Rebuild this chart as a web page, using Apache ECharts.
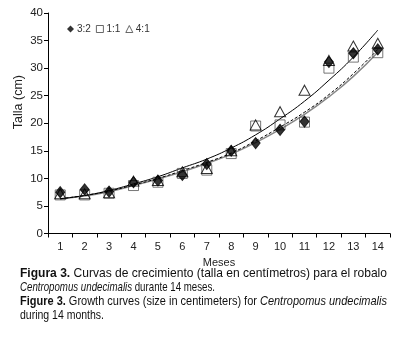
<!DOCTYPE html>
<html>
<head>
<meta charset="utf-8">
<script src="https://cdn.jsdelivr.net/npm/echarts@6/dist/echarts.min.js"></script>
<style>
html,body{margin:0;padding:0;background:#fff;}
#chart{width:395px;height:351px;}
</style>
</head>
<body>
<div id="chart"></div>
<script>
var months = ['1','2','3','4','5','6','7','8','9','10','11','12','13','14'];
var yTicks = [0,5,10,15,20,25,30,35,40];
// observed values
var s32 = [7.5, 8.0, 7.6, 9.3, 9.6, 10.6, 12.6, 15.0, 16.4, 18.8, 20.3, 31.1, 32.7, 33.4];
var s11 = [7.0, 7.0, 7.3, 8.7, 9.3, 10.9, 11.5, 14.5, 19.5, 19.7, 20.2, 30.0, 32.0, 32.8];
var s41 = [7.2, 7.2, 7.4, 9.5, 9.6, 11.2, 11.8, 15.0, 19.7, 22.1, 26.0, 31.4, 34.0, 34.5];
// fitted growth curves
var fitUpper = [6.3, 6.9, 7.8, 9.0, 10.3, 11.9, 13.5, 15.5, 17.9, 20.8, 24.0, 27.8, 32.0, 36.9];
var fitMidA  = [6.3, 6.9, 7.7, 8.8, 10.0, 11.4, 12.9, 14.6, 16.8, 19.3, 22.0, 25.2, 29.0, 33.4];
var fitMidB  = [6.3, 6.8, 7.6, 8.7, 9.9, 11.2, 12.7, 14.4, 16.5, 18.9, 21.6, 24.8, 28.5, 32.9];

var FONT = '"Liberation Sans",Arial,sans-serif';

// caption lines as [style, text] segments
var cap1 = [['b','Figura 3.'],['n',' Curvas de crecimiento (talla en centímetros) para el robalo']];
var cap2 = [['i','Centropomus undecimalis'],['n',' durante 14 meses.']];
var cap3 = [['b','Figure 3.'],['n',' Growth curves (size in centimeters) for '],['i','Centropomus undecimalis']];
var cap4 = [['n','during 14 months.']];

var fonts = {b:'bold 13px '+FONT, n:'13px '+FONT, i:'italic 13px '+FONT};
var mctx = document.createElement('canvas').getContext('2d');
function lineWidth(segs){
  var w=0; segs.forEach(function(s){mctx.font=fonts[s[0]]; w+=mctx.measureText(s[1]).width;}); return w;
}
function capEl(segs, y, targetW){
  var sc = targetW/lineWidth(segs);
  var rich = {};
  Object.keys(fonts).forEach(function(k){rich[k]={font:fonts[k],fill:'#111'};});
  var txt = segs.map(function(s){return '{'+s[0]+'|'+s[1]+'}';}).join('');
  return {type:'text',x:20,y:y,scaleX:sc,
    style:{text:txt,rich:rich,x:0,y:0,verticalAlign:'middle',align:'left'}};
}

var chart = echarts.init(document.getElementById('chart'), null, {renderer:'canvas'});
var option = {
  animation:false,
  backgroundColor:'#fff',
  grid:{left:48,right:5,top:13,bottom:117.5,containLabel:false},
  legend:{
    left:62, top:19, itemWidth:7, itemHeight:7, itemGap:5,
    textStyle:{fontFamily:FONT,fontSize:10,color:'#333',padding:[0,0,0,-2]},
    data:[
      {name:'3:2',icon:'diamond',itemStyle:{color:'#000',borderColor:'#000'}},
      {name:'1:1',icon:'rect',itemStyle:{color:'#fff',borderColor:'#444',borderWidth:1}},
      {name:'4:1',icon:'triangle',itemStyle:{color:'#fff',borderColor:'#444',borderWidth:1}}
    ]
  },
  xAxis:{
    type:'category', data:months, boundaryGap:true,
    name:'Meses', nameLocation:'middle', nameGap:15,
    nameTextStyle:{fontFamily:FONT,fontSize:11,color:'#222'},
    axisLine:{lineStyle:{color:'#000',width:1}},
    axisTick:{show:true,length:4,lineStyle:{color:'#000'}},
    axisLabel:{fontFamily:FONT,fontSize:11,color:'#222',margin:8},
    splitLine:{show:false}
  },
  yAxis:{
    type:'value', min:yTicks[0], max:yTicks[yTicks.length-1], interval:5,
    axisLine:{show:true,lineStyle:{color:'#000',width:1}},
    axisTick:{show:true,length:4,lineStyle:{color:'#000'}},
    axisLabel:{fontFamily:FONT,fontSize:11.5,color:'#222',margin:5},
    splitLine:{show:false}
  },
  graphic:[
    {type:'text',left:12,top:75,rotation:Math.PI/2,
     style:{text:'Talla (cm)',font:'12.5px '+FONT,fill:'#222'}},
    capEl(cap1, 273, 367),
    capEl(cap2, 287, 195),
    capEl(cap3, 301, 367),
    capEl(cap4, 315, 84)
  ],
  series:[
    {name:'fitB',type:'line',data:fitMidB,smooth:true,symbol:'none',z:2,
     lineStyle:{color:'#888',width:1.5},silent:true},
    {name:'fitA',type:'line',data:fitMidA,smooth:true,symbol:'none',z:2,
     lineStyle:{color:'#000',width:1,type:[3,2]},silent:true},
    {name:'fitU',type:'line',data:fitUpper,smooth:true,symbol:'none',z:2,
     lineStyle:{color:'#000',width:1},silent:true},
    {name:'1:1',type:'scatter',data:s11,symbol:'rect',symbolSize:10,z:3,
     itemStyle:{color:'rgba(255,255,255,0)',borderColor:'#555',borderWidth:1}},
    {name:'3:2',type:'scatter',data:s32,symbol:'diamond',symbolSize:[9,11],z:4,
     itemStyle:{color:'#000',borderColor:'#000'}},
    {name:'4:1',type:'scatter',data:s41,symbol:'triangle',symbolSize:[11,10],z:5,
     itemStyle:{color:'rgba(255,255,255,0)',borderColor:'#000',borderWidth:1}}
  ]
};
chart.setOption(option);
</script>
</body>
</html>
